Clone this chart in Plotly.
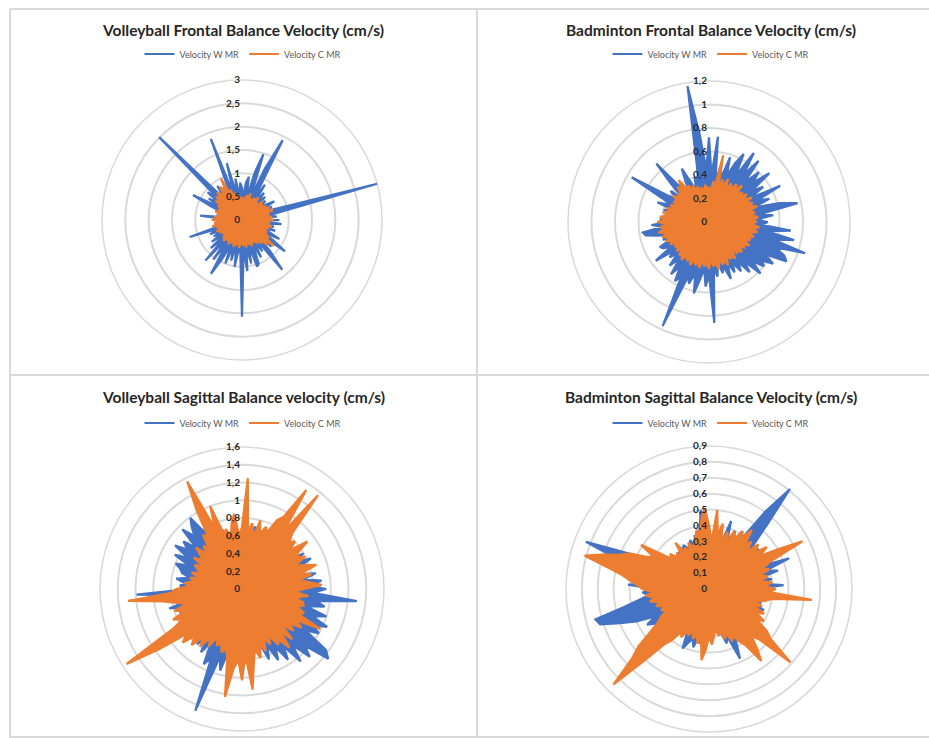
import plotly.graph_objects as go

# Sample index around each radar (one category per recorded sample)
samples = [str(i) for i in range(1, 121)]

# Volleyball frontal balance velocity (cm/s)
vf_w = [0.7, 0.45, 0.8, 0.94, 0.45, 1.05, 1.48, 0.5, 1.2, 1.92,
        0.5, 0.9, 0.45, 0.75, 0.45, 0.7, 0.45, 0.65, 0.4, 0.6,
        0.8, 0.45, 0.7, 0.5, 0.85, 3.0, 0.9, 0.5, 0.75, 0.45,
        0.8, 0.5, 0.85, 0.45, 0.7, 0.45, 0.75, 0.45, 0.65, 0.9,
        0.5, 0.8, 1.14, 0.5, 0.85, 0.5, 0.9, 1.37, 0.5, 0.8,
        0.5, 0.9, 0.55, 1.0, 1.05, 0.55, 0.95, 0.6, 1.1, 0.65,
        2.07, 0.7, 0.6, 1.02, 0.55, 0.9, 0.6, 1.0, 0.55, 0.95,
        1.33, 0.6, 1.05, 0.5, 1.17, 0.55, 0.9, 0.45, 0.8, 0.5,
        0.7, 0.45, 0.75, 0.45, 1.18, 0.5, 0.6, 0.4, 0.55, 0.4,
        0.6, 0.4, 0.9, 0.4, 0.55, 0.4, 0.6, 0.45, 0.75, 1.18,
        0.55, 0.85, 0.6, 0.95, 0.7, 2.51, 0.85, 0.6, 0.9, 0.55,
        0.8, 0.5, 0.7, 1.86, 0.55, 1.26, 0.55, 0.9, 0.5, 0.8]
vf_c = [0.45, 0.3, 0.5, 0.35, 0.55, 0.4, 0.6, 0.35, 0.5, 0.45,
        0.55, 0.4, 0.6, 0.45, 0.5, 0.35, 0.6, 0.45, 0.55, 0.4,
        0.6, 0.5, 0.65, 0.45, 0.7, 0.5, 0.6, 0.45, 0.65, 0.5,
        0.67, 0.5, 0.6, 0.45, 0.65, 0.5, 0.6, 0.4, 0.55, 0.6,
        0.5, 0.7, 0.55, 0.88, 0.6, 0.75, 0.5, 0.65, 0.45, 0.6,
        0.5, 0.55, 0.4, 0.6, 0.45, 0.55, 0.4, 0.6, 0.45, 0.55,
        0.5, 0.45, 0.6, 0.4, 0.55, 0.5, 0.6, 0.45, 0.55, 0.4,
        0.6, 0.45, 0.55, 0.4, 0.6, 0.5, 0.55, 0.4, 0.5, 0.45,
        0.55, 0.4, 0.6, 0.45, 0.55, 0.5, 0.65, 0.45, 0.6, 0.4,
        0.65, 0.45, 0.6, 0.4, 0.55, 0.45, 0.6, 0.5, 0.55, 0.45,
        0.6, 0.5, 0.7, 0.55, 0.75, 0.6, 0.8, 0.65, 0.7, 0.85,
        0.6, 1.0, 0.55, 0.7, 0.45, 0.6, 0.4, 0.55, 0.35, 0.5]

# Badminton frontal balance velocity (cm/s)
bf_w = [0.72, 0.4, 0.73, 0.35, 0.5, 0.38, 0.58, 0.42, 0.55, 0.65,
        0.45, 0.7, 0.5, 0.67, 0.45, 0.6, 0.5, 0.66, 0.45, 0.55,
        0.4, 0.68, 0.45, 0.55, 0.4, 0.62, 0.77, 0.45, 0.55, 0.4,
        0.5, 0.45, 0.7, 0.5, 0.74, 0.55, 0.86, 0.6, 0.7, 0.74,
        0.55, 0.65, 0.56, 0.6, 0.5, 0.62, 0.45, 0.55, 0.42, 0.5,
        0.4, 0.48, 0.38, 0.52, 0.4, 0.45, 0.35, 0.47, 0.4, 0.86,
        0.45, 0.55, 0.4, 0.5, 0.62, 0.45, 0.55, 0.5, 0.97, 0.52,
        0.58, 0.45, 0.55, 0.4, 0.5, 0.38, 0.45, 0.4, 0.56, 0.38,
        0.45, 0.47, 0.35, 0.42, 0.35, 0.45, 0.55, 0.57, 0.4, 0.49,
        0.35, 0.42, 0.3, 0.38, 0.3, 0.4, 0.32, 0.47, 0.35, 0.45,
        0.76, 0.4, 0.35, 0.42, 0.3, 0.45, 0.67, 0.35, 0.42, 0.3,
        0.4, 0.51, 0.35, 0.3, 0.4, 0.35, 0.5, 1.17, 0.74, 0.45]
bf_c = [0.3, 0.25, 0.35, 0.28, 0.58, 0.3, 0.38, 0.32, 0.4, 0.3,
        0.38, 0.33, 0.4, 0.35, 0.42, 0.32, 0.38, 0.35, 0.4, 0.33,
        0.42, 0.35, 0.4, 0.38, 0.43, 0.35, 0.4, 0.36, 0.42, 0.38,
        0.4, 0.36, 0.43, 0.38, 0.42, 0.35, 0.4, 0.37, 0.38, 0.33,
        0.4, 0.35, 0.37, 0.32, 0.38, 0.34, 0.36, 0.3, 0.38, 0.35,
        0.36, 0.32, 0.4, 0.35, 0.38, 0.33, 0.41, 0.35, 0.38, 0.32,
        0.4, 0.35, 0.38, 0.33, 0.4, 0.36, 0.38, 0.34, 0.4, 0.35,
        0.38, 0.33, 0.4, 0.36, 0.38, 0.32, 0.37, 0.33, 0.36, 0.32,
        0.38, 0.34, 0.4, 0.35, 0.42, 0.36, 0.44, 0.38, 0.42, 0.36,
        0.44, 0.37, 0.42, 0.35, 0.4, 0.33, 0.38, 0.32, 0.36, 0.3,
        0.35, 0.3, 0.38, 0.32, 0.36, 0.33, 0.4, 0.35, 0.44, 0.33,
        0.36, 0.3, 0.34, 0.28, 0.32, 0.27, 0.3, 0.26, 0.32, 0.28]

# Volleyball sagittal balance velocity (cm/s)
vs_w = [0.65, 0.55, 0.7, 0.6, 0.72, 0.5, 0.65, 0.55, 0.7, 0.6,
        0.75, 0.6, 0.7, 0.55, 0.75, 0.6, 0.8, 0.65, 0.75, 0.6,
        0.8, 0.65, 0.85, 0.7, 0.8, 0.65, 0.85, 0.7, 0.9, 0.75,
        0.95, 0.8, 1.30, 0.85, 0.95, 0.75, 1.0, 0.85, 1.05, 0.9,
        1.0, 0.85, 1.17, 1.25, 0.95, 1.08, 0.85, 1.05, 0.8, 0.95,
        0.75, 0.9, 0.7, 0.85, 0.65, 0.8, 0.6, 0.75, 0.65, 0.84,
        0.6, 0.75, 0.65, 0.8, 0.7, 0.95, 0.8, 1.47, 0.85, 0.95,
        0.7, 0.85, 0.65, 0.8, 0.6, 0.75, 0.55, 0.7, 0.6, 0.75,
        0.55, 0.7, 0.6, 0.75, 0.65, 0.85, 0.6, 0.75, 0.65, 1.19,
        0.6, 0.7, 0.65, 0.75, 0.6, 0.7, 0.73, 0.8, 0.65, 0.85,
        0.7, 0.9, 0.75, 0.85, 0.7, 0.95, 0.8, 0.9, 0.99, 0.75,
        0.85, 0.65, 0.75, 0.6, 0.7, 0.55, 0.65, 0.5, 0.6, 0.55]
vs_c = [0.7, 1.25, 0.65, 0.75, 0.6, 0.8, 0.65, 0.75, 0.7, 0.87,
        0.94, 1.33, 0.8, 1.36, 0.85, 0.75, 0.8, 0.7, 0.91, 0.75,
        0.72, 0.8, 0.65, 0.75, 0.88, 0.7, 0.8, 0.65, 0.75, 0.9,
        0.7, 0.6, 0.75, 0.6, 0.7, 0.72, 0.65, 0.75, 0.7, 0.99,
        0.7, 0.8, 0.65, 0.75, 0.6, 0.8, 0.65, 0.85, 0.7, 0.75,
        0.6, 0.7, 0.6, 0.75, 0.65, 0.8, 0.7, 0.85, 1.14, 0.75,
        1.03, 0.8, 0.9, 1.23, 0.8, 0.7, 0.75, 0.65, 0.7, 0.6,
        0.75, 0.65, 0.8, 0.7, 0.85, 0.75, 0.9, 0.8, 1.15, 1.55,
        0.9, 0.75, 0.85, 0.7, 0.8, 0.65, 0.75, 0.9, 1.29, 0.8,
        0.74, 0.6, 0.65, 0.55, 0.6, 0.5, 0.6, 0.5, 0.55, 0.6,
        0.5, 0.65, 0.55, 0.6, 0.7, 0.55, 0.65, 0.6, 0.75, 0.7,
        1.02, 1.36, 0.75, 1.0, 0.65, 0.7, 0.6, 0.75, 0.85, 0.6]

# Badminton sagittal balance velocity (cm/s)
bs_w = [0.3, 0.25, 0.35, 0.28, 0.38, 0.3, 0.45, 0.32, 0.4, 0.35,
        0.42, 0.38, 0.6, 0.81, 0.55, 0.4, 0.35, 0.4, 0.3, 0.38,
        0.32, 0.42, 0.35, 0.54, 0.38, 0.45, 0.33, 0.4, 0.32, 0.47,
        0.3, 0.38, 0.3, 0.35, 0.28, 0.34, 0.3, 0.37, 0.28, 0.33,
        0.3, 0.36, 0.32, 0.38, 0.3, 0.4, 0.33, 0.42, 0.35, 0.4,
        0.33, 0.38, 0.48, 0.32, 0.36, 0.28, 0.3, 0.25, 0.28, 0.22,
        0.25, 0.3, 0.28, 0.35, 0.3, 0.38, 0.33, 0.36, 0.41, 0.3,
        0.33, 0.28, 0.3, 0.25, 0.3, 0.28, 0.32, 0.3, 0.35, 0.4,
        0.45, 0.38, 0.5, 0.6, 0.72, 0.74, 0.55, 0.45, 0.38, 0.42,
        0.35, 0.51, 0.4, 0.45, 0.35, 0.5, 0.6, 0.83, 0.55, 0.4,
        0.35, 0.3, 0.33, 0.28, 0.3, 0.25, 0.28, 0.3, 0.25, 0.3,
        0.32, 0.28, 0.3, 0.33, 0.28, 0.35, 0.3, 0.38, 0.50, 0.3]
bs_c = [0.4, 0.3, 0.5, 0.35, 0.42, 0.3, 0.38, 0.32, 0.4, 0.35,
        0.42, 0.38, 0.46, 0.36, 0.4, 0.33, 0.42, 0.36, 0.45, 0.38,
        0.5, 0.66, 0.42, 0.36, 0.4, 0.33, 0.38, 0.32, 0.4, 0.35,
        0.42, 0.38, 0.65, 0.4, 0.36, 0.3, 0.35, 0.3, 0.38, 0.33,
        0.4, 0.36, 0.45, 0.5, 0.69, 0.45, 0.4, 0.48, 0.56, 0.42,
        0.38, 0.33, 0.36, 0.3, 0.33, 0.28, 0.3, 0.26, 0.3, 0.35,
        0.3, 0.38, 0.45, 0.32, 0.35, 0.3, 0.33, 0.28, 0.32, 0.3,
        0.35, 0.32, 0.4, 0.45, 0.6, 0.85, 0.65, 0.57, 0.45, 0.38,
        0.35, 0.3, 0.33, 0.3, 0.35, 0.32, 0.38, 0.35, 0.4, 0.36,
        0.42, 0.45, 0.5, 0.55, 0.65, 0.81, 0.7, 0.6, 0.55, 0.45,
        0.4, 0.51, 0.38, 0.3, 0.33, 0.28, 0.3, 0.27, 0.36, 0.28,
        0.3, 0.26, 0.32, 0.28, 0.3, 0.33, 0.38, 0.35, 0.45, 0.51]

# Radial tick values per chart
vf_ticks = [0, 0.5, 1, 1.5, 2, 2.5, 3]
bf_ticks = [0, 0.2, 0.4, 0.6, 0.8, 1, 1.2]
vs_ticks = [0, 0.2, 0.4, 0.6, 0.8, 1, 1.2, 1.4, 1.6]
bs_ticks = [0, 0.1, 0.2, 0.3, 0.4, 0.5, 0.6, 0.7, 0.8, 0.9]

titles = ["Volleyball Frontal Balance Velocity (cm/s)",
          "Badminton Frontal Balance Velocity (cm/s)",
          "Volleyball Sagittal Balance velocity (cm/s)",
          "Badminton Sagittal Balance Velocity (cm/s)"]
series_names = ["Velocity W MR", "Velocity C MR"]

BLUE = "#4472C4"
ORANGE = "#ED7D31"
GRID = "#D9D9D9"
W, H = 929, 738

panels = [
    # (w values, c values, ticks, centre x px, centre y px, radius px)
    (vf_w, vf_c, vf_ticks, 242, 220, 140),
    (bf_w, bf_c, bf_ticks, 709, 222, 141),
    (vs_w, vs_c, vs_ticks, 242, 589, 142),
    (bs_w, bs_c, bs_ticks, 709, 589, 143),
]
title_pos = [(243, 30), (711, 30), (243, 397), (711, 397)]
legend_pos = [(243, 54), (711, 54), (243, 423), (711, 423)]

fig = go.Figure()

def closed(vals):
    return list(vals) + [vals[0]]

theta_closed = samples + [samples[0]]

for k, (w_vals, c_vals, ticks, cx, cy, rad) in enumerate(panels):
    pname = "polar" if k == 0 else f"polar{k + 1}"
    lname = "legend" if k == 0 else f"legend{k + 1}"
    for vals, color, name in ((w_vals, BLUE, series_names[0]), (c_vals, ORANGE, series_names[1])):
        # solid body of the series
        fig.add_trace(go.Scatterpolar(
            r=closed(vals), theta=theta_closed, mode="lines", name=name,
            line=dict(color=color, width=0), fill="toself", fillcolor=color,
            subplot=pname, showlegend=False, hoverinfo="skip",
        ))
        # outline of the series (also used for the legend entry)
        fig.add_trace(go.Scatterpolar(
            r=closed(vals), theta=theta_closed, mode="lines", name=name,
            line=dict(color=color, width=2.2),
            subplot=pname, legend=lname, showlegend=True,
        ))
    fig.layout[pname] = dict(
        domain=dict(x=[(cx - rad) / W, (cx + rad) / W],
                    y=[1 - (cy + rad) / H, 1 - (cy - rad) / H]),
        bgcolor="rgba(0,0,0,0)",
        gridshape="circular",
        radialaxis=dict(range=[0, ticks[-1]], tickvals=ticks, angle=90,
                        side="counterclockwise",
                        showline=False, ticks="", gridcolor=GRID, gridwidth=1.5,
                        layer="above traces", tickangle=90,
                        tickfont=dict(family="Lato", size=10, color="#262626", weight="bold")),
        angularaxis=dict(type="category", rotation=90, direction="clockwise",
                         showgrid=False, showticklabels=False, ticks="",
                         showline=True, linecolor=GRID, linewidth=1.5,
                         layer="below traces"),
    )
    tx, ty = title_pos[k]
    fig.add_annotation(x=tx / W, y=1 - ty / H, xref="paper", yref="paper",
                       text=titles[k], showarrow=False, xanchor="center", yanchor="middle",
                       font=dict(family="Lato", size=15.5, color="#262626", weight="bold"))
    lx, ly = legend_pos[k]
    fig.layout[lname] = dict(orientation="h", x=lx / W, y=1 - ly / H,
                             xanchor="center", yanchor="middle",
                             bgcolor="rgba(0,0,0,0)", itemwidth=30,
                             font=dict(family="Lato", size=9, color="#595959"),
                             tracegroupgap=0)

# Panel frame lines
frame = [
    (10 / W, 1 - 9 / H, 1, 1 - 9 / H),
    (10 / W, 1 - 9 / H, 10 / W, 0),
    (477 / W, 1 - 9 / H, 477 / W, 0),
    (10 / W, 1 - 375 / H, 1, 1 - 375 / H),
    (10 / W, 1 - 737 / H, 1, 1 - 737 / H),
]
for x0, y0, x1, y1 in frame:
    fig.add_shape(type="line", xref="paper", yref="paper", x0=x0, y0=y0, x1=x1, y1=y1,
                  line=dict(color="#D9D9D9", width=2))

fig.update_layout(width=W, height=H, margin=dict(l=0, r=0, t=0, b=0),
                  paper_bgcolor="white", plot_bgcolor="white",
                  separators=",.", font=dict(family="Lato"))

fig.write_html("out.html")
